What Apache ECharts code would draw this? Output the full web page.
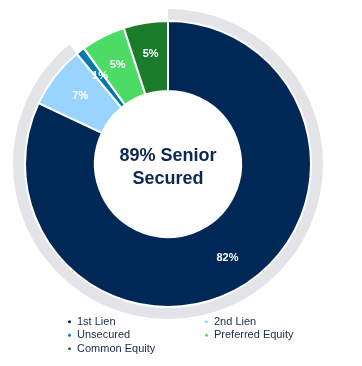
<!DOCTYPE html>
<html><head><meta charset="utf-8">
<script src="https://cdn.jsdelivr.net/npm/echarts@6/dist/echarts.min.js"></script>
<style>html,body{margin:0;padding:0;background:#fff}#c{width:362px;height:366px}</style>
</head><body><div id="c"></div>
<script>
var categories = ['1st Lien', '2nd Lien', 'Unsecured', 'Preferred Equity', 'Common Equity'];
var values = [82, 7, 1, 5, 5];
var colors = ['#002856', '#99d3ff', '#0277b1', '#4cdc66', '#1a7b2b'];
var seniorLabel = '89% Senior\nSecured';
var seniorShare = [89, 11];

var chart = echarts.init(document.getElementById('c'));
var txt = '#1b2a4a';
chart.setOption({
  animation: false,
  graphic: [{
    type: 'text', x: 168, y: 168,
    style: { text: seniorLabel, textAlign: 'center', textVerticalAlign: 'middle',
      font: 'bold 18px "Liberation Sans", Arial, sans-serif', fill: '#0c2850', lineHeight: 23 }
  }],
  legend: [{
    orient: 'vertical', left: 61, top: 310, itemGap: 0,
    icon: 'circle', itemWidth: 5, itemHeight: 5,
    data: [categories[0], categories[2], categories[4]],
    textStyle: { color: txt, fontSize: 11, fontFamily: '"Liberation Sans", Arial', lineHeight: 13.5 }
  }, {
    orient: 'vertical', left: 198, top: 310, itemGap: 0,
    icon: 'circle', itemWidth: 5, itemHeight: 5,
    data: [categories[1], categories[3]],
    textStyle: { color: txt, fontSize: 11, fontFamily: '"Liberation Sans", Arial', lineHeight: 13.5 }
  }],
  series: [{
    type: 'pie', silent: true, center: [168, 164], radius: [143, 155], startAngle: 90,
    label: { show: false }, labelLine: { show: false },
    data: [
      { value: seniorShare[0], name: 'senior', itemStyle: { color: '#e3e4e7' } },
      { value: seniorShare[1], name: 'other', itemStyle: { color: 'rgba(0,0,0,0)' } }
    ]
  }, {
    type: 'pie', center: [168, 164], radius: [73, 143], startAngle: 90,
    itemStyle: { borderColor: '#fff', borderWidth: 2 },
    label: { show: true, position: 'inside', formatter: '{c}%', color: '#fff',
      fontWeight: 'bold', fontSize: 11, fontFamily: '"Liberation Sans", Arial' },
    labelLine: { show: false },
    data: categories.map(function (n, i) { return { name: n, value: values[i], itemStyle: { color: colors[i] } }; })
  }]
});
</script></body></html>
